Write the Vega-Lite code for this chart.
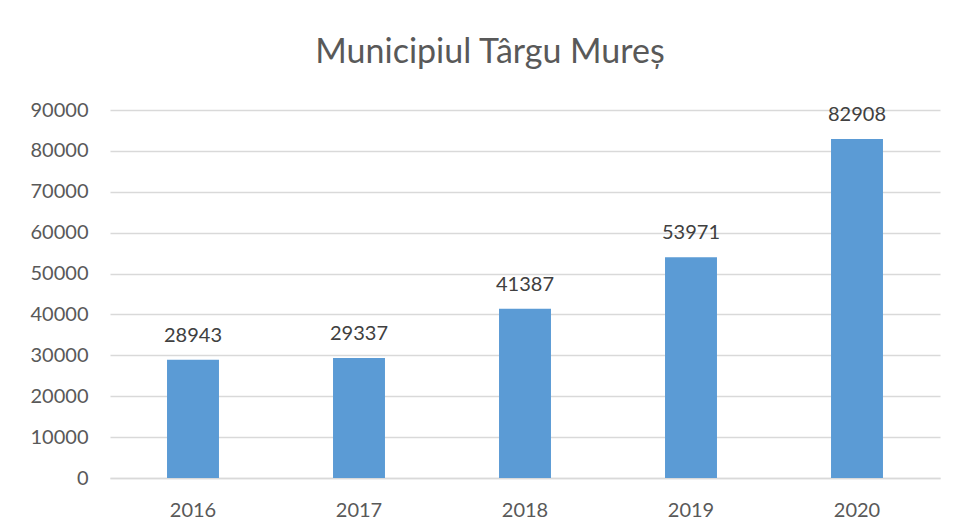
{
  "$schema": "https://vega.github.io/schema/vega-lite/v6.json",
  "width": 830,
  "height": 368,
  "autosize": {"type": "none"},
  "padding": {"left": 110, "top": 110, "right": 16, "bottom": 54},
  "background": "white",
  "title": {
    "text": "Municipiul Târgu Mureș",
    "font": "Lato",
    "fontSize": 34,
    "fontWeight": "normal",
    "color": "#595959",
    "anchor": "middle",
    "baseline": "alphabetic",
    "offset": 3,
    "dx": -35
  },
  "data": {
    "values": [
      {"year": "2016", "value": 28943},
      {"year": "2017", "value": 29337},
      {"year": "2018", "value": 41387},
      {"year": "2019", "value": 53971},
      {"year": "2020", "value": 82908}
    ]
  },
  "encoding": {
    "x": {
      "field": "year",
      "type": "nominal",
      "title": null,
      "scale": {"paddingInner": 0.687, "paddingOuter": 0.3435},
      "axis": {
        "labelAngle": 0,
        "labelFont": "Lato",
        "labelFontSize": 20,
        "labelColor": "#595959",
        "labelPadding": 22,
        "ticks": false,
        "domainColor": "#D9D9D9",
        "domainWidth": 1.5
      }
    },
    "y": {
      "field": "value",
      "type": "quantitative",
      "title": null,
      "scale": {"domain": [0, 90000], "nice": false},
      "axis": {
        "values": [0, 10000, 20000, 30000, 40000, 50000, 60000, 70000, 80000, 90000],
        "format": "d",
        "labelFont": "Lato",
        "labelFontSize": 20,
        "labelColor": "#595959",
        "labelPadding": 22,
        "ticks": false,
        "domain": false,
        "gridColor": "#D9D9D9",
        "gridWidth": 1.5
      }
    }
  },
  "layer": [
    {"mark": {"type": "bar", "color": "#5B9BD5"}},
    {
      "mark": {
        "type": "text",
        "baseline": "alphabetic",
        "dy": -18,
        "font": "Lato",
        "fontSize": 20,
        "color": "#404040"
      },
      "encoding": {"text": {"field": "value", "type": "quantitative", "format": "d"}}
    }
  ],
  "config": {"view": {"stroke": null}}
}
